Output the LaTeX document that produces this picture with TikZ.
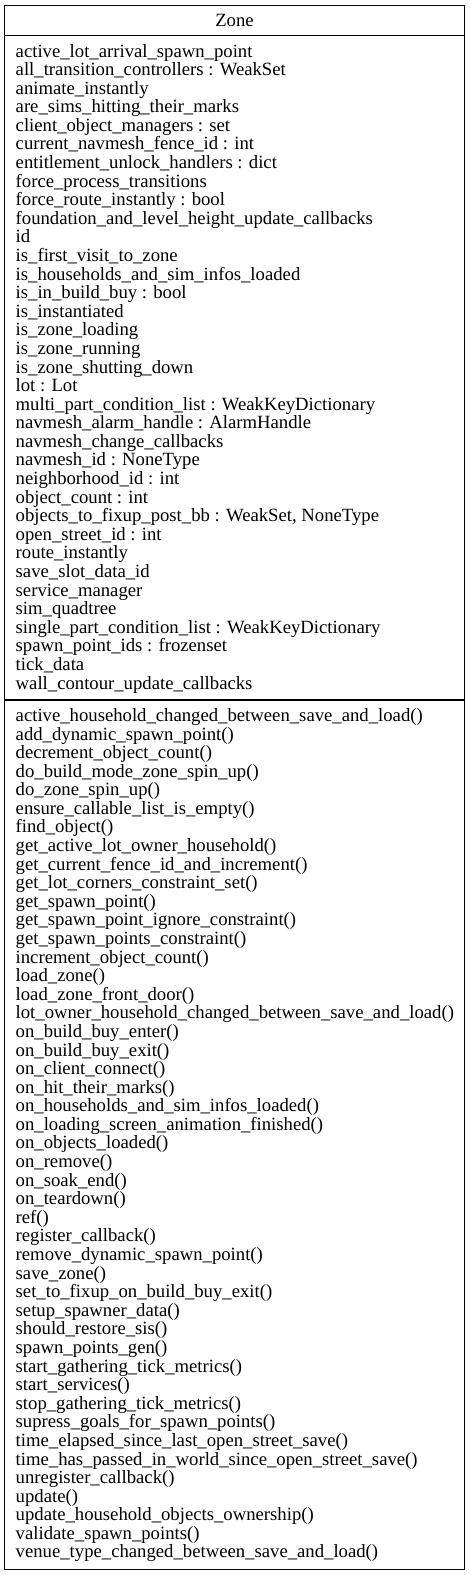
\documentclass[tikz,border=0pt]{standalone}
\usepackage{fontspec}
\setmainfont{Liberation Serif}
\begin{document}
\begin{tikzpicture}[x=1pt,y=-1pt,
  member/.style={anchor=base west,inner sep=0pt,font=\fontsize{18.7}{18.6}\selectfont},
  boxline/.style={draw=black,line width=1.1pt}]
\useasboundingbox (0,0) rectangle (469,1575);
\coordinate (tl) at (4.5,5.5);
\coordinate (br) at (464.5,1569.5);
\draw[boxline] (tl) rectangle (br);
\coordinate (s1l) at (4.5,35.5);
\coordinate (s1r) at (464.5,35.5);
\coordinate (s2l) at (4.5,700);
\coordinate (s2r) at (464.5,700);
\draw[boxline] (s1l) -- (s1r);
\draw[boxline] (s2l) -- (s2r);
\node[anchor=base,inner sep=0pt,font=\fontsize{18.7}{18.6}\selectfont] (title) at (234.5,26) {Zone};
\foreach \t [count=\i from 0] in {
active\_lot\_arrival\_spawn\_point,
all\_transition\_controllers : WeakSet,
animate\_instantly,
are\_sims\_hitting\_their\_marks,
client\_object\_managers : set,
current\_navmesh\_fence\_id : int,
entitlement\_unlock\_handlers : dict,
force\_process\_transitions,
force\_route\_instantly : bool,
foundation\_and\_level\_height\_update\_callbacks,
id,
is\_first\_visit\_to\_zone,
is\_households\_and\_sim\_infos\_loaded,
is\_in\_build\_buy : bool,
is\_instantiated,
is\_zone\_loading,
is\_zone\_running,
is\_zone\_shutting\_down,
lot : Lot,
multi\_part\_condition\_list : WeakKeyDictionary,
navmesh\_alarm\_handle : AlarmHandle,
navmesh\_change\_callbacks,
navmesh\_id : NoneType,
neighborhood\_id : int,
object\_count : int,
{objects\_to\_fixup\_post\_bb : WeakSet, NoneType},
open\_street\_id : int,
route\_instantly,
save\_slot\_data\_id,
service\_manager,
sim\_quadtree,
single\_part\_condition\_list : WeakKeyDictionary,
spawn\_point\_ids : frozenset,
tick\_data,
wall\_contour\_update\_callbacks}
  \node[member] (attr\i) at (15.5,57+\i*18.59) {\t};
\foreach \t [count=\i from 0] in {
active\_household\_changed\_between\_save\_and\_load(),
add\_dynamic\_spawn\_point(),
decrement\_object\_count(),
do\_build\_mode\_zone\_spin\_up(),
do\_zone\_spin\_up(),
ensure\_callable\_list\_is\_empty(),
find\_object(),
get\_active\_lot\_owner\_household(),
get\_current\_fence\_id\_and\_increment(),
get\_lot\_corners\_constraint\_set(),
get\_spawn\_point(),
get\_spawn\_point\_ignore\_constraint(),
get\_spawn\_points\_constraint(),
increment\_object\_count(),
load\_zone(),
load\_zone\_front\_door(),
lot\_owner\_household\_changed\_between\_save\_and\_load(),
on\_build\_buy\_enter(),
on\_build\_buy\_exit(),
on\_client\_connect(),
on\_hit\_their\_marks(),
on\_households\_and\_sim\_infos\_loaded(),
on\_loading\_screen\_animation\_finished(),
on\_objects\_loaded(),
on\_remove(),
on\_soak\_end(),
on\_teardown(),
ref(),
register\_callback(),
remove\_dynamic\_spawn\_point(),
save\_zone(),
set\_to\_fixup\_on\_build\_buy\_exit(),
setup\_spawner\_data(),
should\_restore\_sis(),
spawn\_points\_gen(),
start\_gathering\_tick\_metrics(),
start\_services(),
stop\_gathering\_tick\_metrics(),
supress\_goals\_for\_spawn\_points(),
time\_elapsed\_since\_last\_open\_street\_save(),
time\_has\_passed\_in\_world\_since\_open\_street\_save(),
unregister\_callback(),
update(),
update\_household\_objects\_ownership(),
validate\_spawn\_points(),
venue\_type\_changed\_between\_save\_and\_load()}
  \node[member] (meth\i) at (15.5,721.4+\i*18.59) {\t};
\end{tikzpicture}
\end{document}
